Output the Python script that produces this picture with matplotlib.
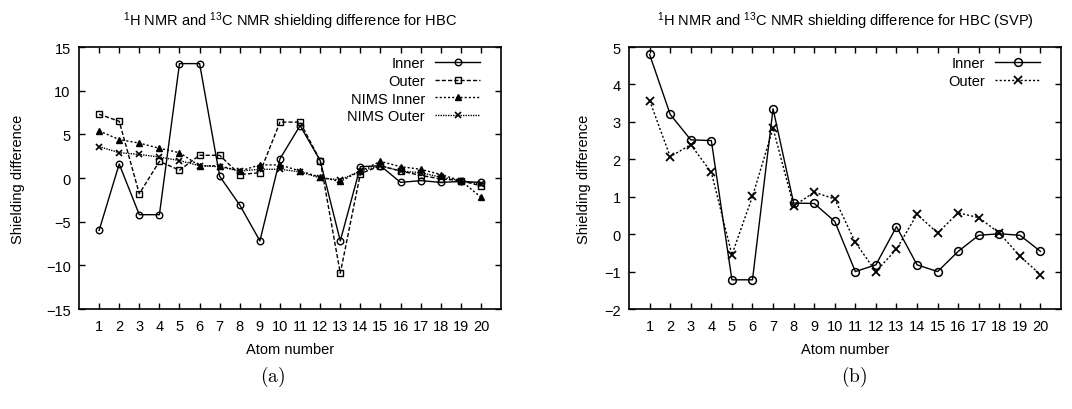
import matplotlib
matplotlib.use("Agg")
import matplotlib.pyplot as plt

plt.rcParams['font.family'] = ['Liberation Sans', 'DejaVu Sans']
plt.rcParams['mathtext.fontset'] = 'custom'
plt.rcParams['mathtext.rm'] = 'Liberation Sans'
plt.rcParams['mathtext.it'] = 'Liberation Sans:italic'
plt.rcParams['mathtext.bf'] = 'Liberation Sans:bold'

atoms = list(range(1, 21))
tick_labels = [str(a) for a in atoms]

# Panel (a)
inner_a = [-6.0, 1.6, -4.2, -4.2, 13.1, 13.1, 0.2, -3.1, -7.2, 2.2,
           6.0, 2.0, -7.2, 1.3, 1.4, -0.5, -0.3, -0.5, -0.4, -0.5]
outer_a = [7.3, 6.5, -1.8, 1.9, 0.9, 2.6, 2.6, 0.4, 0.6, 6.4,
           6.4, 2.0, -10.9, 0.5, 1.4, 0.8, 0.3, -0.1, -0.3, -0.9]
nims_inner_a = [5.4, 4.4, 4.0, 3.4, 2.9, 1.4, 1.4, 0.8, 1.5, 1.5,
                0.8, 0.1, -0.4, 0.8, 1.9, 1.3, 1.0, 0.4, -0.3, -2.2]
nims_outer_a = [3.6, 2.9, 2.7, 2.4, 2.0, 1.4, 1.3, 0.8, 1.0, 1.0,
                0.7, 0.0, -0.2, 0.8, 1.4, 0.8, 0.6, 0.1, -0.3, -0.7]

# Panel (b)
inner_b = [4.8, 3.2, 2.52, 2.5, -1.22, -1.22, 3.35, 0.83, 0.82, 0.34,
           -1.0, -0.82, 0.2, -0.82, -1.0, -0.46, -0.03, 0.01, -0.03, -0.46]
outer_b = [3.57, 2.07, 2.39, 1.65, -0.55, 1.01, 2.83, 0.75, 1.12, 0.94,
           -0.22, -1.0, -0.4, 0.53, 0.03, 0.57, 0.44, 0.03, -0.59, -1.08]

title_a = r'$^{1}$H NMR and $^{13}$C NMR shielding difference for HBC'
title_b = r'$^{1}$H NMR and $^{13}$C NMR shielding difference for HBC (SVP)'

FS = 10.5
fig = plt.figure(figsize=(10.72, 4.10), dpi=100)
axa = fig.add_axes([0.0737, 0.2439, 0.3937, 0.639])
axb = fig.add_axes([0.5868, 0.2439, 0.4030, 0.639])

lw = 1.0
ms = 4.7
axa.plot(atoms, inner_a, color='black', lw=lw, ls='-', marker='o', ms=ms,
         mfc='none', mew=1.0, label='Inner')
axa.plot(atoms, outer_a, color='black', lw=lw, ls=(0, (3, 1.5)), marker='s', ms=ms,
         mfc='none', mew=1.0, label='Outer')
axa.plot(atoms, nims_inner_a, color='black', lw=lw, ls=(0, (1.5, 1.5)), marker='^', ms=ms,
         mfc='black', mew=1.0, label='NIMS Inner')
axa.plot(atoms, nims_outer_a, color='black', lw=lw, ls=(0, (1, 0.8)), marker='x', ms=ms,
         mew=1.2, label='NIMS Outer')

axb.plot(atoms, inner_b, color='black', lw=lw, ls='-', marker='o', ms=5.6,
         mfc='none', mew=1.1, label='Inner')
axb.plot(atoms, outer_b, color='black', lw=lw, ls=(0, (1.5, 1.5)), marker='x', ms=5.6,
         mew=1.3, label='Outer')

for ax, ylim, yticks, title, ycoord, legx in [
        (axa, (-15, 15), range(-15, 16, 5), title_a, -0.128, 0.9645),
        (axb, (-2, 5), range(-2, 6), title_b, -0.088, 0.9653)]:
    ax.set_xlim(0, 21)
    ax.set_ylim(*ylim)
    ax.set_xticks(atoms)
    ax.set_xticklabels(tick_labels)
    ax.set_yticks(list(yticks))
    ax.tick_params(direction='in', top=True, right=True, length=4, width=1.0,
                   labelsize=FS, pad=6)
    ax.tick_params(axis='x', pad=7)
    for s in ax.spines.values():
        s.set_linewidth(1.2)
    ax.set_title(title, fontsize=FS, pad=16)
    ax.set_xlabel('Atom number', fontsize=FS, labelpad=7)
    ax.set_ylabel('Shielding difference', fontsize=FS)
    ax.yaxis.set_label_coords(ycoord, 0.5)
    ax.legend(loc='upper right', bbox_to_anchor=(legx, 0.987),
              markerfirst=False, frameon=False,
              fontsize=FS, handlelength=3.1, handletextpad=0.7,
              labelspacing=0.25, borderaxespad=0.0)

fig.text(0.2545, 0.08, r'$\mathrm{(a)}$', math_fontfamily='cm', fontsize=14,
         ha='center', va='center')
fig.text(0.797, 0.08, r'$\mathrm{(b)}$', math_fontfamily='cm', fontsize=14,
         ha='center', va='center')

fig.savefig('out.png', dpi=100)
